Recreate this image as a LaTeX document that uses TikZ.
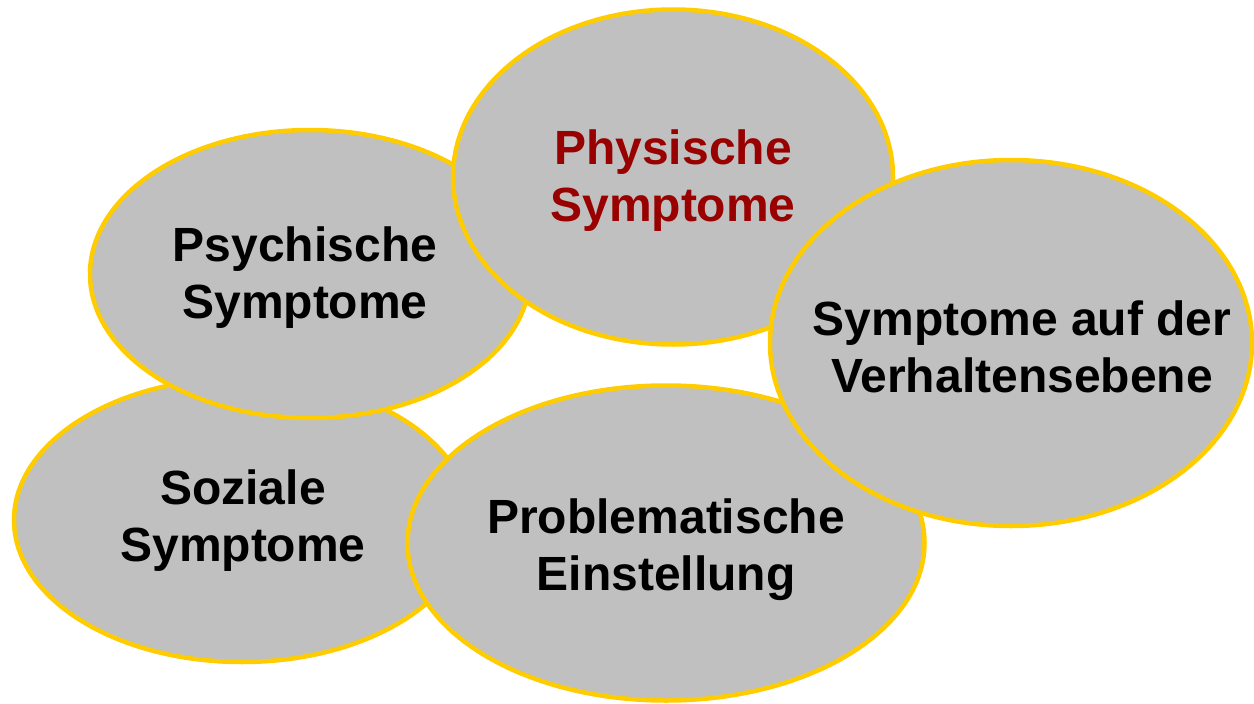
\documentclass[tikz,border=0pt]{standalone}
\usepackage{fontspec}
\setmainfont{Liberation Sans}
\usetikzlibrary{shapes.geometric}
\definecolor{bubblefill}{HTML}{C0C0C0}
\definecolor{bubbleline}{HTML}{FFCC00}
\definecolor{darkred}{HTML}{990000}
\begin{document}
\begin{tikzpicture}[x=1pt,y=-1pt,
  bubble/.style={ellipse, draw=bubbleline, fill=bubblefill, line width=4.5pt, inner sep=0pt},
  label/.style={align=center, font=\bfseries\fontsize{48}{57}\selectfont}]
\useasboundingbox (0,0) rectangle (1254,704);
\node[bubble, minimum width=456pt, minimum height=284pt] (soz) at (242,520) {};
\node[bubble, minimum width=440pt, minimum height=288pt] (psy) at (310,274) {};
\node[bubble, minimum width=440pt, minimum height=335pt] (phy) at (673,177) {};
\node[bubble, minimum width=517pt, minimum height=315pt] (pro) at (666,543) {};
\node[bubble, minimum width=482pt, minimum height=366pt] (ver) at (1011,343) {};
\node[label] (tsoz) at (243,521) {Soziale\\Symptome};
\node[label] (tpsy) at (305,278) {Psychische\\Symptome};
\node[label, text=darkred] (tphy) at (673,181) {Physische\\Symptome};
\node[label] (tpro) at (666,550) {Problematische\\Einstellung};
\node[label] (tver) at (1022,347) {Symptome auf der\\Verhaltensebene};
\end{tikzpicture}
\end{document}
